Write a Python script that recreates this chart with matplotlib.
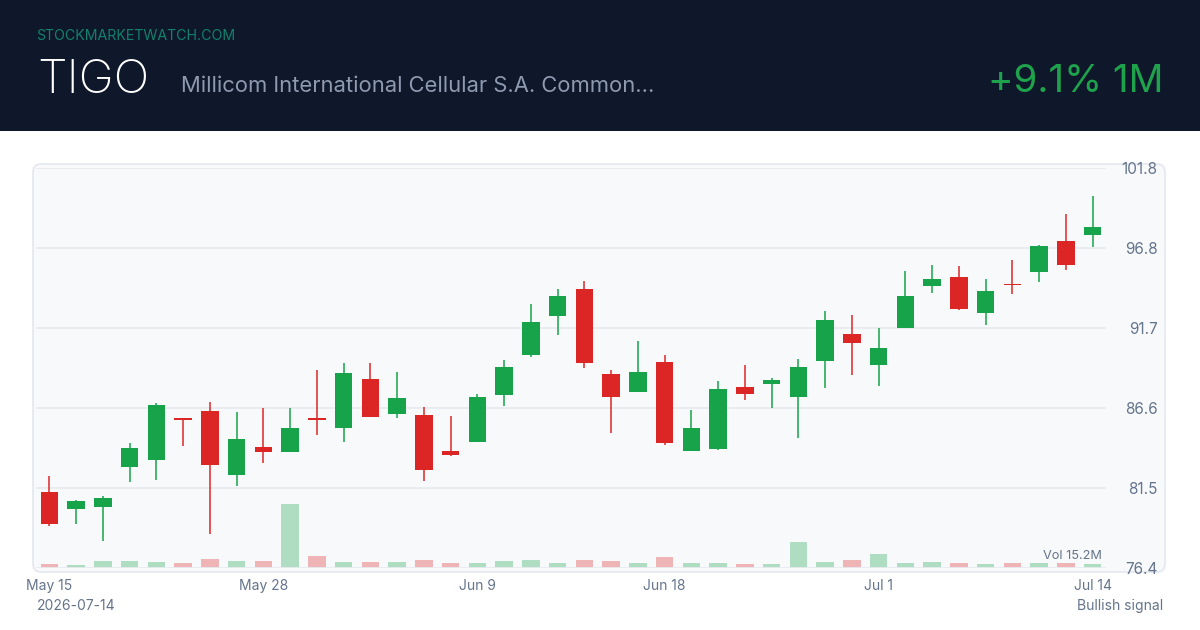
import matplotlib
matplotlib.use("Agg")
import matplotlib.pyplot as plt
from matplotlib.patches import Rectangle, FancyBboxPatch
from matplotlib.transforms import IdentityTransform

plt.rcParams['font.family'] = ['Inter', 'DejaVu Sans']

# ---------------- data ----------------
DATES = ["May 15", "May 18", "May 19", "May 20", "May 21", "May 22", "May 26", "May 27",
         "May 28", "May 29", "Jun 1", "Jun 2", "Jun 3", "Jun 4", "Jun 5", "Jun 8",
         "Jun 9", "Jun 10", "Jun 11", "Jun 12", "Jun 15", "Jun 16", "Jun 17", "Jun 18",
         "Jun 22", "Jun 23", "Jun 24", "Jun 25", "Jun 26", "Jun 29", "Jun 30", "Jul 1",
         "Jul 2", "Jul 6", "Jul 7", "Jul 8", "Jul 9", "Jul 10", "Jul 13", "Jul 14"]
OPEN = [81.23, 80.15, 80.27, 82.81, 83.26, 85.95, 86.37, 82.33, 84.11, 83.77,
        85.95, 85.31, 88.43, 86.20, 86.14, 83.83, 84.46, 87.43, 89.97, 92.45,
        94.16, 88.72, 87.62, 89.51, 83.85, 83.96, 87.94, 88.13, 87.32, 89.59,
        91.28, 89.32, 91.70, 94.37, 94.92, 92.62, 94.50, 95.26, 97.21, 97.57]
HIGH = [82.29, 80.74, 81.02, 84.34, 86.88, 85.95, 86.98, 86.35, 86.58, 86.62,
        89.02, 89.44, 89.44, 88.89, 86.67, 86.05, 87.45, 89.63, 93.19, 94.16,
        94.67, 89.02, 90.88, 89.93, 86.48, 88.32, 89.33, 88.51, 89.70, 92.74,
        92.47, 91.68, 95.32, 95.68, 95.62, 94.80, 96.00, 96.94, 98.92, 100.05]
LOW = [79.07, 79.22, 78.16, 81.91, 81.99, 84.15, 78.60, 81.61, 83.07, 83.77,
       84.87, 84.46, 86.01, 85.95, 81.95, 83.56, 84.40, 86.73, 89.80, 91.20,
       89.16, 84.97, 87.62, 84.25, 83.85, 83.90, 87.09, 86.62, 84.66, 87.87,
       88.68, 87.96, 91.70, 93.93, 92.81, 91.86, 93.82, 94.61, 95.37, 96.85]
CLOSE = [79.22, 80.66, 80.87, 84.05, 86.75, 85.80, 82.98, 84.62, 83.81, 85.31,
         85.80, 88.83, 86.01, 87.22, 82.62, 83.62, 87.30, 89.19, 92.05, 93.72,
         89.42, 87.26, 88.87, 84.36, 85.29, 87.79, 87.49, 88.40, 89.21, 92.19,
         90.73, 90.41, 93.70, 94.78, 92.91, 94.03, 94.41, 96.89, 95.70, 98.10]
VOLUME_M = [0.19, 0.14, 0.31, 0.34, 0.27, 0.25, 0.42, 0.31, 0.34, 2.97,
            0.55, 0.29, 0.27, 0.27, 0.36, 0.23, 0.25, 0.34, 0.37, 0.25,
            0.39, 0.33, 0.25, 0.50, 0.22, 0.22, 0.20, 0.17, 1.20, 0.27,
            0.36, 0.64, 0.22, 0.27, 0.22, 0.17, 0.22, 0.22, 0.23, 0.20]
XTICK_POS = [0, 8, 16, 23, 31, 39]
XTICK_LABELS = ["May 15", "May 28", "Jun 9", "Jun 18", "Jul 1", "Jul 14"]
YTICK_LABELS = ["76.4", "81.5", "86.6", "91.7", "96.8", "101.8"]
Y_MIN, Y_MAX = 76.42, 101.845

TICKER = "TIGO"
COMPANY = "Millicom International Cellular S.A. Common..."
CHANGE = "+9.1% 1M"
SITE = "STOCKMARKETWATCH.COM"
DATE_LABEL = "2026-07-14"
SIGNAL = "Bullish signal"
VOL_LABEL = "Vol 15.2M"

# ---------------- style ----------------
W, H = 1200, 630
UP = "#16a34a"
DOWN = "#dc2626"
HEADER_BG = "#0f172a"
PANEL_BG = "#f8f9fb"
GRID = "#e8ebf1"
MUTED = "#64748b"

fig = plt.figure(figsize=(W / 100, H / 100), dpi=100)
fig.patch.set_facecolor("white")


def fx(px):
    return px / W


def fy(py):
    return 1 - py / H


# header band
fig.add_artist(Rectangle((0, H - 131), W, 131, transform=IdentityTransform(),
                         facecolor=HEADER_BG, edgecolor="none", zorder=0))
# chart panel
fig.add_artist(FancyBboxPatch((33, H - 572), 1132, 408,
                              boxstyle="round,pad=0,rounding_size=8",
                              transform=IdentityTransform(),
                              facecolor=PANEL_BG, edgecolor="#e4e7ee",
                              linewidth=1.2, zorder=0))

# header texts
fig.text(fx(36), fy(40), SITE, color="#13806c", fontsize=10.2, va="baseline",
         ha="left")
fig.text(fx(37), fy(93), TICKER, color="white", fontsize=34, va="baseline",
         ha="left", fontweight="light")
fig.text(fx(181), fy(92), COMPANY, color="#8e9ab0", fontsize=15.8,
         va="baseline", ha="left")
fig.text(fx(1163), fy(92), CHANGE, color="#1ea24c", fontsize=27.8,
         va="baseline", ha="right")

# ---------------- axes ----------------
left, right, top, bottom = 36, 1106, 168, 568
rect = [fx(left), 1 - bottom / H, (right - left) / W, (bottom - top) / H]
axv = fig.add_axes(rect)
ax = fig.add_axes(rect)
ax.set_zorder(axv.get_zorder() + 1)
for a in (ax, axv):
    a.patch.set_visible(False)
    for s in a.spines.values():
        s.set_visible(False)

n = len(OPEN)
xs = list(range(n))
colors = [UP if c >= o else DOWN for o, c in zip(OPEN, CLOSE)]

# volume
vmax = max(VOLUME_M)
axv.bar(xs, VOLUME_M, width=0.66, color=colors, alpha=0.32, linewidth=0)
axv.set_ylim(0, vmax / 0.16)
axv.set_xlim(-0.5, n - 0.5)
axv.set_xticks([])
axv.set_yticks([])

# candles
ax.vlines(xs, LOW, HIGH, colors=colors, linewidth=1.1, zorder=3)
bottoms = [min(o, c) for o, c in zip(OPEN, CLOSE)]
heights = [max(abs(c - o), 0.09) for o, c in zip(OPEN, CLOSE)]
ax.bar(xs, heights, bottom=bottoms, width=0.66, color=colors, linewidth=0,
       zorder=4)

ax.set_xlim(-0.5, n - 0.5)
ax.set_ylim(Y_MIN, Y_MAX)
step = (Y_MAX - Y_MIN) / (len(YTICK_LABELS) - 1)
yt = [Y_MIN + i * step for i in range(len(YTICK_LABELS))]
ax.set_yticks(yt)
ax.set_yticklabels(YTICK_LABELS)
ax.yaxis.tick_right()
ax.tick_params(axis="y", length=0, pad=37, labelsize=11, labelcolor=MUTED)
for lab in ax.get_yticklabels():
    lab.set_horizontalalignment("right")
ax.set_xticks(XTICK_POS)
ax.set_xticklabels(XTICK_LABELS)
ax.tick_params(axis="x", length=0, pad=8, labelsize=10, labelcolor=MUTED)
ax.grid(axis="y", color=GRID, linewidth=1.3, zorder=0)
ax.set_axisbelow(True)
ax.grid(axis="x", visible=False)

# bottom labels
fig.text(fx(1102), fy(556), VOL_LABEL, color=MUTED, fontsize=9.2, ha="right",
         va="center")
fig.text(fx(37), fy(606), DATE_LABEL, color=MUTED, fontsize=10, ha="left",
         va="center")
fig.text(fx(1163), fy(606), SIGNAL, color=MUTED, fontsize=10, ha="right",
         va="center")

fig.savefig("out.png", dpi=100, facecolor=fig.get_facecolor())
